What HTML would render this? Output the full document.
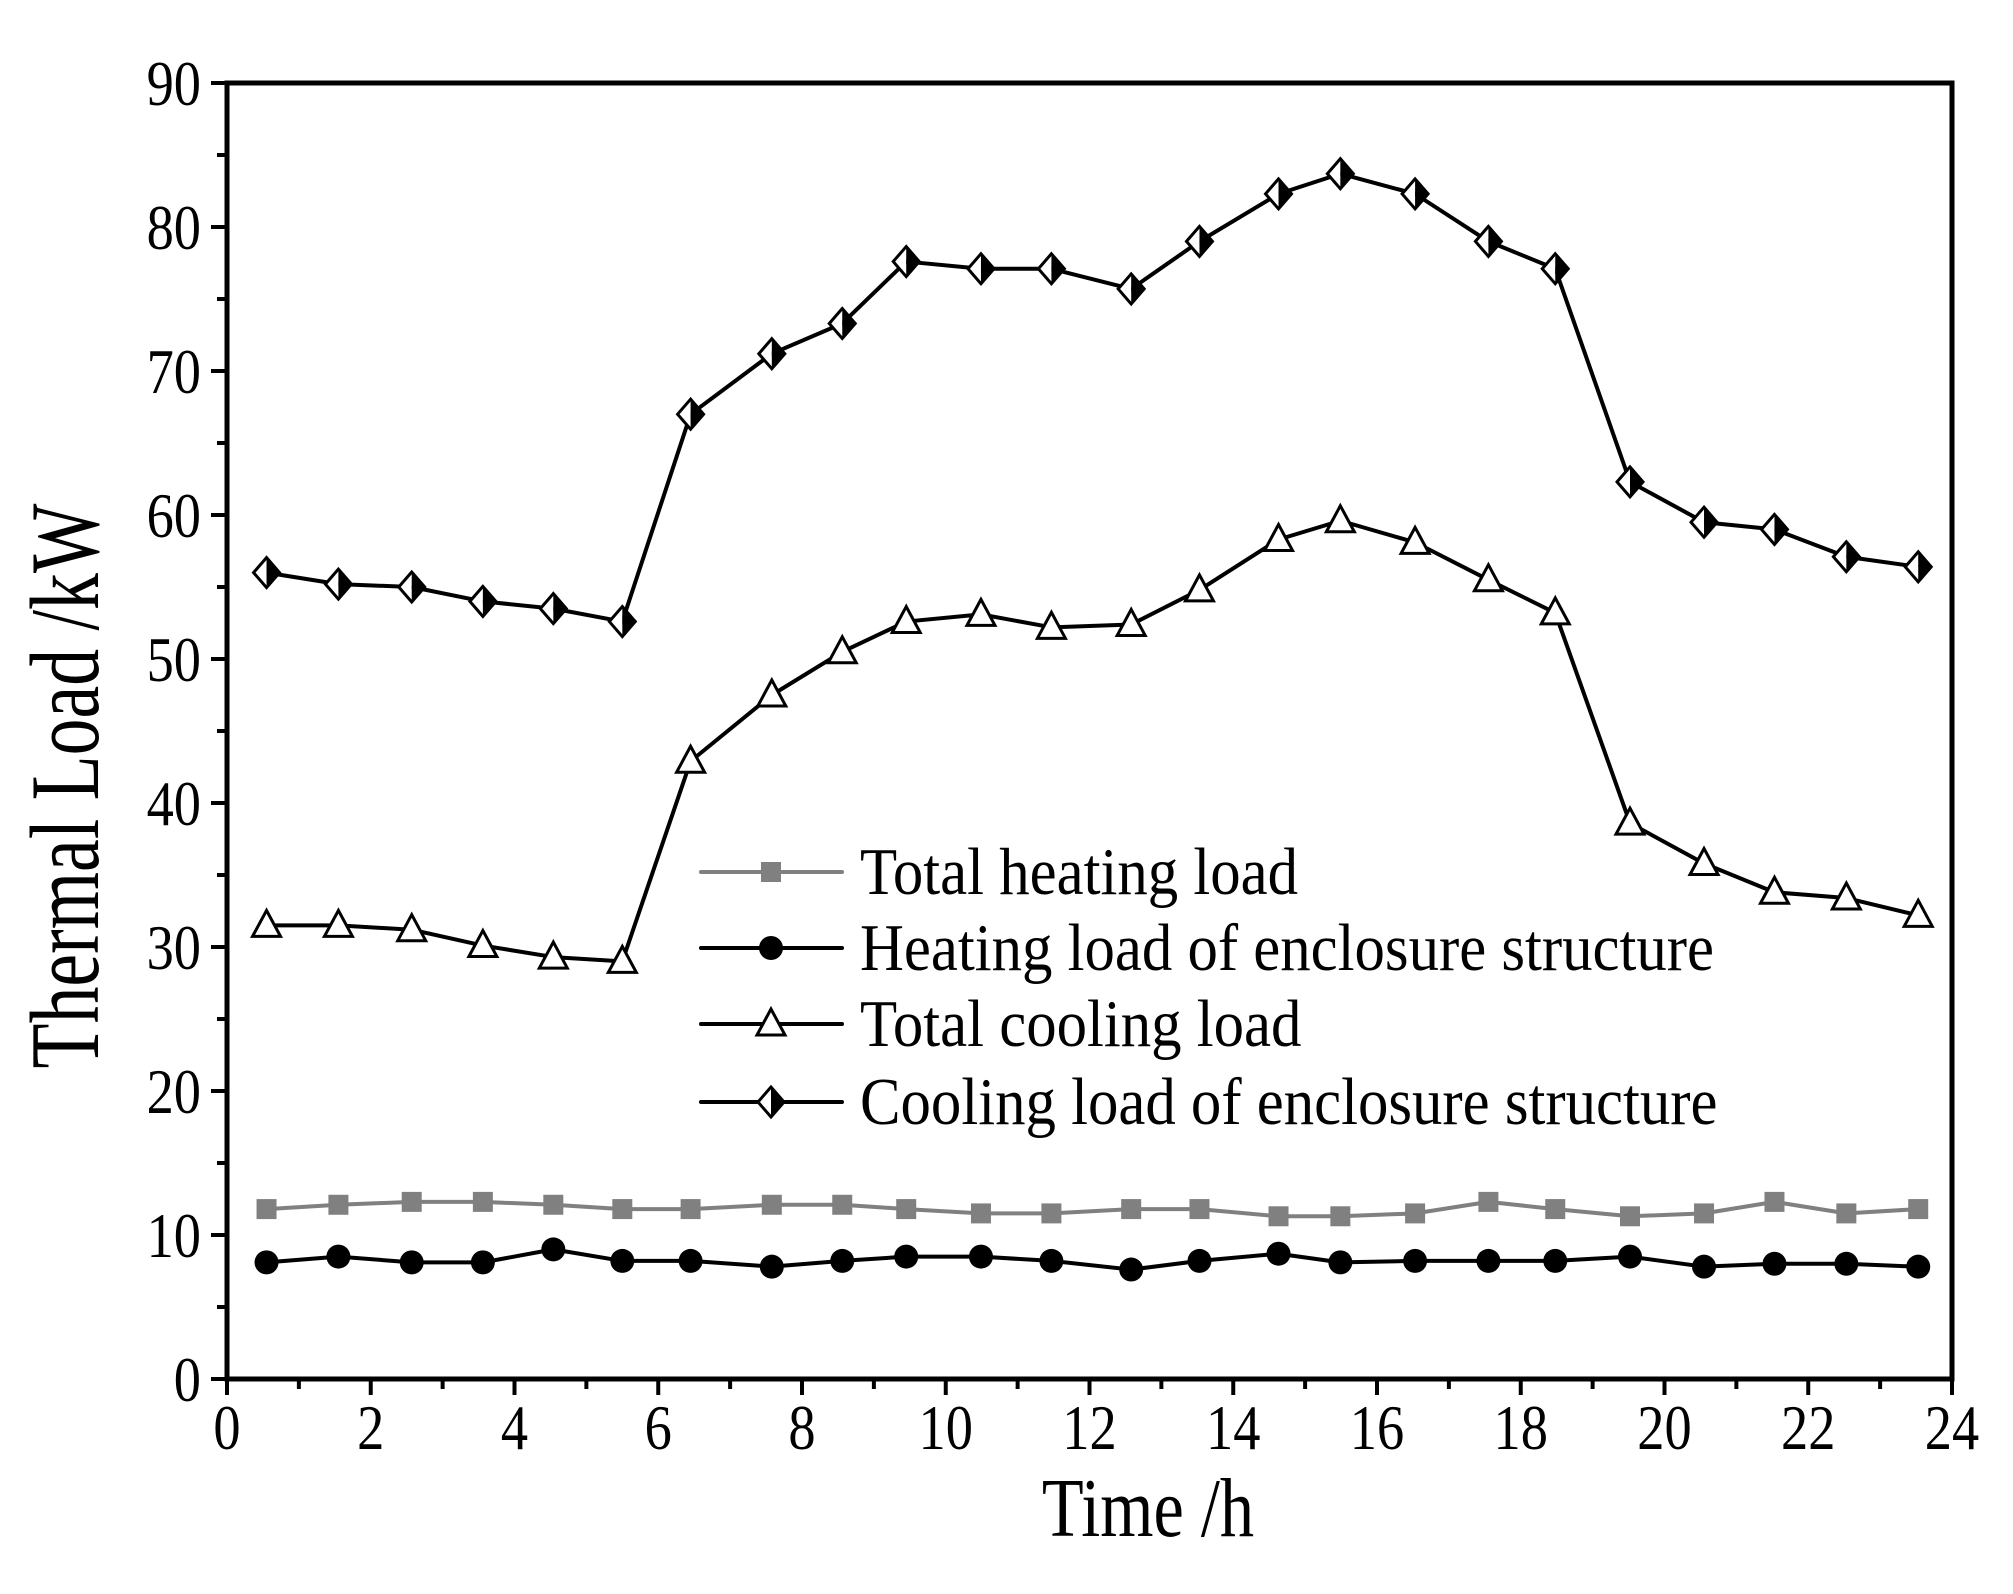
<!DOCTYPE html>
<html><head><meta charset="utf-8"><style>
html,body{margin:0;padding:0;background:#fff;}
svg text{font-family:"Liberation Serif",serif;fill:#000;}
</style></head><body>
<svg id="chart" width="2013" height="1589" viewBox="0 0 2013 1589" xmlns="http://www.w3.org/2000/svg">
<g id="axes"></g>
<g id="series"></g>
<g id="legend"></g>
<text transform="translate(1148,1536) scale(0.9,1.1)" font-size="76" text-anchor="middle">Time /h</text>
<text transform="translate(98,786) rotate(-90) scale(0.97,1.3)" font-size="76" text-anchor="middle">Thermal Load /kW</text>
</svg>
<script>
const hours = [0.55,1.55,2.57,3.56,4.54,5.50,6.45,7.58,8.56,9.45,10.49,11.47,12.58,13.53,14.63,15.49,16.53,17.55,18.48,19.52,20.55,21.53,22.53,23.53];
const totalHeating = [11.8,12.1,12.3,12.3,12.1,11.8,11.8,12.1,12.1,11.8,11.5,11.5,11.8,11.8,11.3,11.3,11.5,12.3,11.8,11.3,11.5,12.3,11.5,11.8];
const heatingEnclosure = [8.1,8.5,8.1,8.1,9.0,8.2,8.2,7.8,8.2,8.5,8.5,8.2,7.6,8.2,8.7,8.1,8.2,8.2,8.2,8.5,7.8,8.0,8.0,7.8];
const totalCooling = [31.5,31.5,31.2,30.1,29.3,29.0,42.9,47.5,50.5,52.6,53.1,52.2,52.4,54.8,58.3,59.6,58.1,55.5,53.2,38.6,35.8,33.8,33.4,32.2];
const coolingEnclosure = [56.0,55.2,55.0,54.0,53.5,52.6,67.0,71.2,73.3,77.6,77.1,77.1,75.7,79.0,82.3,83.7,82.3,79.0,77.1,62.3,59.5,59.0,57.1,56.4];
const xTicks = [0,2,4,6,8,10,12,14,16,18,20,22,24];
const yTicks = [0,10,20,30,40,50,60,70,80,90];
const legendLabels = ["Total heating load","Heating load of enclosure structure","Total cooling load","Cooling load of enclosure structure"];

const NS="http://www.w3.org/2000/svg";
const X0=227,X1=1952,Y0=1379,Y1=83;
const xs=v=>X0+(v-0)/24*(X1-X0);
const ys=v=>Y0-(v-0)/90*(Y0-Y1);
function mk(tag,attrs,parent){const e=document.createElementNS(NS,tag);for(const k in attrs)e.setAttribute(k,attrs[k]);parent.appendChild(e);return e;}
const axes=document.getElementById('axes'),series=document.getElementById('series'),legend=document.getElementById('legend');

const fr=mk('rect',{x:X0,y:Y1,width:X1-X0,height:Y0-Y1,fill:'none',stroke:'#000','stroke-width':5},axes);


for(let i=0;i<=24;i++){
  const major=i%2===0;
  const t=mk('line',{x1:xs(i),x2:xs(i),y1:Y0,y2:Y0+(major?16:10),stroke:'#000','stroke-width':4},axes);
  
  
}
xTicks.forEach(v=>{
  const t=mk('text',{transform:`translate(${xs(v)},1449) scale(0.85,1)`,'font-size':64,'text-anchor':'middle'},axes);t.textContent=v;
  
  
});
for(let v=0;v<=90;v+=5){
  const major=v%10===0;
  const t=mk('line',{x1:X0-(major?16:10),x2:X0,y1:ys(v),y2:ys(v),stroke:'#000','stroke-width':4},axes);
  
  
}
yTicks.forEach(v=>{
  const t=mk('text',{transform:`translate(201,${ys(v)+22}) scale(0.85,1)`,'font-size':64,'text-anchor':'end'},axes);t.textContent=v;
  
  
});

function marker(type,cx,cy,parent){
  let g=mk('g',{},parent);
  if(type==='square'){mk('rect',{x:cx-10,y:cy-10,width:20,height:20,fill:'#808080'},g);}
  else if(type==='circle'){mk('circle',{cx:cx,cy:cy,r:12,fill:'#000'},g);}
  else if(type==='triangle'){mk('polygon',{points:`${cx},${cy-15} ${cx-14},${cy+11} ${cx+14},${cy+11}`,fill:'#fff',stroke:'#000','stroke-width':3},g);}
  else {
    mk('polygon',{points:`${cx-13},${cy} ${cx},${cy-15} ${cx},${cy+15}`,fill:'#fff'},g);
    mk('polygon',{points:`${cx},${cy-15} ${cx+13},${cy} ${cx},${cy+15}`,fill:'#000'},g);
    mk('polygon',{points:`${cx},${cy-15} ${cx-13},${cy} ${cx},${cy+15} ${cx+13},${cy}`,fill:'none',stroke:'#000','stroke-width':3},g);
  }
  return g;
}
const defs=[
 {data:totalHeating,color:'#808080',m:'square',name:'total-heating-load'},
 {data:heatingEnclosure,color:'#000',m:'circle',name:'heating-load-enclosure'},
 {data:totalCooling,color:'#000',m:'triangle',name:'total-cooling-load'},
 {data:coolingEnclosure,color:'#000',m:'diamond',name:'cooling-load-enclosure'}
];
defs.forEach(d=>{
  const g=mk('g',{},series);
  
  
  const pl=mk('polyline',{points:d.data.map((v,i)=>xs(hours[i])+','+ys(v)).join(' '),fill:'none',stroke:d.color,'stroke-width':4,'stroke-linejoin':'round'},g);
  
  
  d.data.forEach((v,i)=>{
    const m=marker(d.m,xs(hours[i]),ys(v),g);
    
    
  });
});
const rowsY=[872,948,1024,1102];
defs.forEach((d,i)=>{
  const g=mk('g',{},legend);
  
  
  mk('line',{x1:701,x2:842,y1:rowsY[i],y2:rowsY[i],stroke:d.color,'stroke-width':4,'stroke-linecap':'round'},g);
  marker(d.m,771,rowsY[i],g);
  const t=mk('text',{transform:`translate(860,${rowsY[i]+22}) scale(0.95,1.05)`,'font-size':64},g);t.textContent=legendLabels[i];
});
</script>
</body></html>
